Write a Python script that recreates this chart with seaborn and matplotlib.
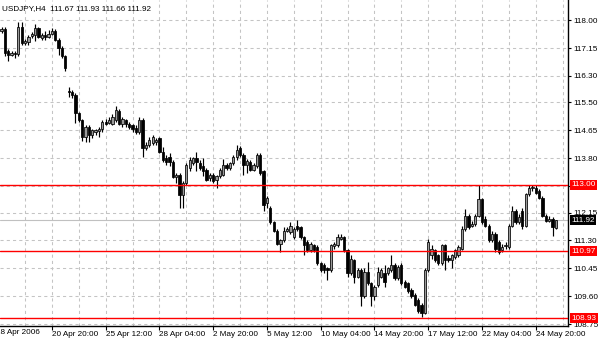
import numpy as np
import matplotlib
matplotlib.use("Agg")
import matplotlib.pyplot as plt
import matplotlib.transforms as mtransforms
import seaborn as sns

# ---- data (USDJPY, H4) ----
opens = [117.68,117.72,117.05,116.95,117.00,116.96,117.80,117.30,117.32,117.52,
         117.55,117.75,117.45,117.56,117.50,117.58,117.66,117.40,117.15,116.90,
         115.85,115.80,115.72,115.17,114.96,114.45,114.75,114.50,114.60,114.62,
         114.68,114.90,114.88,114.85,114.95,115.25,114.85,114.95,114.85,114.80,
         114.72,114.60,114.96,114.12,114.20,114.25,114.30,114.40,114.00,113.80,
         113.85,113.70,113.23,113.30,112.68,113.05,113.50,113.65,113.80,113.65,
         113.55,113.45,113.20,113.30,113.15,113.25,113.30,113.60,113.50,113.65,
         113.85,114.10,113.90,113.60,113.70,113.45,113.55,113.90,113.40,112.45,
         112.30,111.85,111.60,111.20,111.30,111.60,111.55,111.40,111.75,111.70,
         111.40,111.25,111.00,111.15,111.10,110.62,110.55,110.45,110.40,111.12,
         111.15,111.35,111.40,111.00,110.30,110.70,110.20,110.40,109.60,110.35,
         110.00,109.60,109.95,110.20,110.30,110.30,110.40,110.55,110.15,110.55,
         110.05,110.00,109.80,109.65,109.50,109.35,109.10,110.40,110.85,111.00,
         110.85,110.60,111.15,110.78,110.70,110.80,110.85,111.05,111.65,112.05,
         111.75,111.80,112.05,112.55,111.95,111.75,111.30,111.50,111.25,111.00,
         111.12,111.10,111.75,112.20,111.85,112.20,111.75,112.70,112.88,112.90,
         112.80,112.60,112.05,111.90,111.95,111.67]
highs = [117.80,117.78,117.12,117.06,117.06,117.95,117.95,117.42,117.55,117.65,
         117.88,117.80,117.62,117.66,117.70,117.76,117.72,117.45,117.20,116.95,
         115.97,115.86,115.78,115.20,115.00,114.80,114.80,114.70,114.70,114.75,
         114.95,115.00,115.05,115.15,115.40,115.30,115.05,115.00,114.90,114.85,
         114.80,115.05,115.02,114.30,114.45,114.50,114.40,114.45,114.15,113.90,
         113.95,113.75,113.35,113.35,113.10,113.65,113.85,113.85,114.00,113.75,
         113.80,113.50,113.35,113.35,113.30,113.50,113.78,113.65,113.70,113.90,
         114.20,114.18,113.95,113.78,113.75,113.65,113.95,113.95,113.45,112.65,
         112.35,111.90,111.65,111.35,111.70,111.70,111.85,111.70,111.92,111.75,
         111.45,111.30,111.25,111.20,111.15,110.65,110.60,110.50,111.20,111.25,
         111.50,111.50,111.45,111.05,110.85,110.75,110.45,110.45,110.45,110.65,
         110.05,109.95,110.50,110.45,110.55,110.50,110.85,110.60,110.55,110.60,
         110.10,110.05,109.85,109.70,109.55,109.40,110.45,111.35,111.15,111.05,
         110.90,111.20,111.20,110.85,110.90,111.05,111.15,111.75,112.25,112.10,
         111.90,112.10,113.00,112.60,112.05,111.80,111.60,111.55,111.30,111.20,
         111.25,111.80,112.35,112.25,112.10,112.30,112.75,113.00,113.00,113.00,
         112.85,112.65,112.10,112.05,112.00,111.93]
lows = [117.60,116.92,116.75,116.90,116.85,116.90,117.25,117.25,117.25,117.45,
        117.35,117.45,117.40,117.40,117.45,117.55,117.35,116.95,116.85,116.45,
        115.65,115.62,114.87,114.90,114.32,114.30,114.30,114.40,114.50,114.45,
        114.60,114.80,114.85,114.80,114.90,114.80,114.75,114.75,114.70,114.60,
        114.55,114.55,113.84,114.05,114.15,114.20,114.20,113.95,113.70,113.60,
        113.55,113.20,113.05,112.30,112.30,113.00,113.40,113.60,113.40,113.45,
        113.25,113.10,113.10,113.05,112.90,113.20,113.25,113.45,113.45,113.60,
        113.75,113.85,113.30,113.35,113.40,113.40,113.50,113.30,112.20,112.30,
        111.80,111.55,111.15,110.95,111.25,111.55,111.50,111.35,111.60,111.35,
        110.85,110.95,110.95,110.95,110.55,110.35,110.30,110.10,110.35,111.05,
        111.10,111.30,110.95,110.20,110.25,110.00,110.15,109.30,109.55,109.95,
        109.30,109.50,109.90,110.15,109.90,110.25,110.35,110.10,110.10,109.95,
        109.85,109.70,109.55,109.30,109.10,108.97,109.05,110.35,110.75,110.65,
        110.55,110.55,110.40,110.65,110.45,110.75,110.80,111.00,111.60,111.65,
        111.70,111.75,112.00,111.80,111.70,111.25,111.25,110.95,110.90,110.95,
        111.05,111.05,111.70,111.80,111.80,111.65,111.70,112.65,112.80,112.70,
        112.55,112.00,111.85,111.85,111.45,111.66]
closes = [117.74,117.00,116.95,117.00,116.96,117.80,117.30,117.36,117.50,117.58,
          117.75,117.50,117.56,117.50,117.58,117.66,117.40,117.15,116.90,116.55,
          115.80,115.72,115.17,114.96,114.45,114.75,114.50,114.65,114.66,114.70,
          114.90,114.85,114.97,115.05,115.28,114.85,115.00,114.85,114.75,114.68,
          114.60,114.96,114.10,114.20,114.35,114.45,114.35,114.00,113.75,113.70,
          113.70,113.23,113.30,112.68,113.05,113.60,113.75,113.80,113.70,113.50,
          113.42,113.15,113.28,113.10,113.25,113.45,113.60,113.50,113.65,113.85,
          114.05,113.90,113.60,113.72,113.45,113.60,113.90,113.35,112.38,112.60,
          111.85,111.60,111.20,111.30,111.60,111.65,111.75,111.65,111.65,111.40,
          111.15,111.00,111.20,111.00,110.60,110.40,110.40,110.40,111.15,111.18,
          111.40,111.40,111.00,110.30,110.75,110.20,110.40,109.60,110.35,110.00,
          109.60,109.90,110.35,110.40,110.05,110.45,110.55,110.15,110.50,110.00,
          109.90,109.75,109.60,109.35,109.15,109.10,110.40,111.25,111.05,110.70,
          110.60,111.15,110.70,110.70,110.85,111.00,111.10,111.65,112.05,111.70,
          111.80,112.05,112.55,111.85,111.75,111.30,111.50,111.05,110.95,111.10,
          111.15,111.75,112.20,111.85,112.00,111.75,112.70,112.90,112.92,112.75,
          112.60,112.05,111.90,111.95,111.70,111.92]

price_ticks = [118.00, 117.15, 116.30, 115.50, 114.65, 113.80, 112.95,
               112.15, 111.30, 110.45, 109.60, 108.75]
hidden_ticks = [112.95]   # covered by the 113.00 level box in the reference
date_tick_bars = [15, 31, 47, 63, 79, 95, 111, 127, 143, 159]
date_labels = ['20 Apr 20:00', '25 Apr 12:00', '28 Apr 04:00', '2 May 20:00',
               '5 May 12:00', '10 May 04:00', '14 May 20:00', '17 May 12:00',
               '22 May 04:00', '24 May 20:00']
first_label = '18 Apr 2006'
levels = [113.00, 110.97, 108.93]
last_price = 111.92
title = 'USDJPY,H4  111.67 111.93 111.66 111.92'

# ---- style ----
sns.set_theme(style='white')
plt.rcParams['font.family'] = ['Liberation Sans', 'DejaVu Sans']
FS = 5.85

fig = plt.figure(figsize=(6.0, 3.4), dpi=100)
W, H = 600.0, 340.0
ax = fig.add_axes([0, 1 - 326 / H, 568 / W, 326 / H])
ax.set_facecolor('white')

o = np.array(opens); h = np.array(highs); l = np.array(lows); c = np.array(closes)
x = np.arange(len(c))
up = c >= o

# wicks
ax.vlines(x, l, h, color='black', linewidth=0.85, zorder=3)
# bodies
bottom = np.minimum(o, c)
height = np.maximum(np.abs(c - o), 0.012)
ax.bar(x[up], height[up], bottom=bottom[up], width=0.68, color='#9a9a9a',
       edgecolor='black', linewidth=0.55, zorder=4)
ax.bar(x[~up], height[~up], bottom=bottom[~up], width=0.68, color='black',
       edgecolor='black', linewidth=0.55, zorder=4)

# levels
for lv in levels:
    ax.axhline(lv, color='#ff0000', linewidth=1.0, zorder=5)
ax.axhline(last_price, color='#c0c0c0', linewidth=0.8, zorder=2)

ax.set_xlim(-0.45, 168.6)
ax.set_ylim(108.70, 118.61)

# ticks and grid
ax.yaxis.tick_right()
ax.set_yticks(price_ticks)
ax.set_yticklabels(['' if v in hidden_ticks else f'{v:.2f}' for v in price_ticks])
ax.set_xticks(date_tick_bars)
ax.set_xticklabels(date_labels, ha='left')
minor = [b for b in range(7, 169, 8) if b not in date_tick_bars]
ax.set_xticks(minor, minor=True)
ax.tick_params(axis='y', which='both', right=True, left=False, length=2.5,
               width=0.8, pad=1.5, labelsize=FS, colors='black')
ax.tick_params(axis='x', which='major', bottom=True, length=3, width=0.8,
               pad=0.8, labelsize=FS, colors='black')
ax.tick_params(axis='x', which='minor', bottom=False, length=0)
ax.grid(True, which='both', axis='both', linestyle=(0, (3, 3)),
        color='#c4c4c4', linewidth=0.75, zorder=0)
ax.set_axisbelow(True)

for s in ['top', 'left']:
    ax.spines[s].set_visible(False)
for s in ['right', 'bottom']:
    ax.spines[s].set_visible(True)
    ax.spines[s].set_color('black')
    ax.spines[s].set_linewidth(1.0)

# price label boxes on the right axis
tr = mtransforms.blended_transform_factory(ax.transAxes, ax.transData)
for lv in levels:
    ax.text(1.006, lv, f'{lv:.2f}', transform=tr, color='white', fontsize=FS,
            va='center', ha='left', clip_on=False, zorder=10,
            bbox=dict(boxstyle='square,pad=0.18', fc='#ff0000', ec='none'))
ax.text(1.006, last_price, f'{last_price:.2f}', transform=tr, color='white',
        fontsize=FS, va='center', ha='left', clip_on=False, zorder=10,
        bbox=dict(boxstyle='square,pad=0.18', fc='black', ec='none'))

# title and first date label
fig.text(2 / W, 1 - 9 / H, title, fontsize=FS, ha='left', va='center', color='black')
fig.text(-4 / W, 1 - 333 / H, first_label, fontsize=FS, ha='left', va='center',
         color='black')

fig.savefig('out.png', dpi=100, facecolor='white')
